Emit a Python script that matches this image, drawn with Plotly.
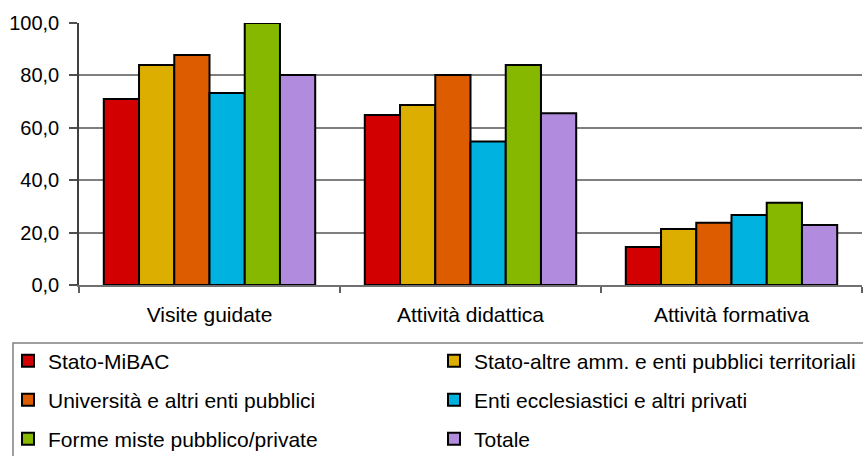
import plotly.graph_objects as go

# Categories of activity and the share (%) for each type of institution
categories = ["Visite guidate", "Attività didattica", "Attività formativa"]

series_names = [
    "Stato-MiBAC",
    "Stato-altre amm. e enti pubblici territoriali",
    "Università e altri enti pubblici",
    "Enti ecclesiastici e altri privati",
    "Forme miste pubblico/private",
    "Totale",
]

stato_mibac = [71.0, 64.9, 14.5]
stato_altre = [84.0, 68.7, 21.4]
universita = [87.8, 80.2, 23.8]
enti_ecclesiastici = [73.3, 54.8, 26.7]
forme_miste = [100.0, 84.0, 31.4]
totale = [80.2, 65.6, 22.9]

series_values = [stato_mibac, stato_altre, universita, enti_ecclesiastici, forme_miste, totale]
series_colors = ["#D20000", "#DCAE00", "#DD5C00", "#00B2DF", "#86B800", "#B18CDE"]

y_ticks = [0, 20, 40, 60, 80, 100]

W, H = 863, 456
font_family = "Liberation Sans, Arial, sans-serif"

# Legend laid out as a 2-column grid: one legend box per entry
col_x_px = [8, 434]
row_y_px = [361, 400, 439]
legend_ids = ["legend", "legend2", "legend3", "legend4", "legend5", "legend6"]

fig = go.Figure()
legend_layouts = {}
for i, (name, vals, col) in enumerate(zip(series_names, series_values, series_colors)):
    lg = legend_ids[i]
    fig.add_trace(go.Bar(
        x=categories, y=vals, name=name, legend=lg, showlegend=True,
        marker=dict(color=col, line=dict(color="#000000", width=2)),
    ))
    legend_layouts[lg] = dict(
        orientation="h", xref="container", yref="container",
        x=col_x_px[i % 2] / W, y=1 - row_y_px[i // 2] / H,
        xanchor="left", yanchor="middle",
        bgcolor="rgba(0,0,0,0)", borderwidth=0,
        font=dict(family=font_family, size=21, color="#000000"),
        itemclick=False, itemdoubleclick=False,
    )

fig.update_layout(
    width=W, height=H,
    showlegend=True,
    margin=dict(l=79, r=1, t=23, b=H - 285),
    paper_bgcolor="white", plot_bgcolor="white",
    barmode="group", bargap=0.19, bargroupgap=0,
    separators=", ",
    font=dict(family=font_family, size=20, color="#000000"),
    xaxis=dict(
        type="category", tickson="boundaries", ticks="outside", ticklen=6,
        tickcolor="#606060", tickwidth=1.5,
        showline=True, linecolor="#707070", linewidth=1.5,
        showgrid=False, ticklabelstandoff=10,
        tickfont=dict(family=font_family, size=21, color="#000000"),
    ),
    yaxis=dict(
        range=[0, 100], tickvals=y_ticks, tickformat=".1f",
        ticks="outside", ticklen=8, tickcolor="#505050", tickwidth=1.5,
        showline=True, linecolor="#404040", linewidth=1.5,
        showgrid=True, gridcolor="#7f7f7f", gridwidth=1.5,
        zeroline=False, ticklabelstandoff=6,
        tickfont=dict(family=font_family, size=20, color="#000000"),
    ),
    **legend_layouts,
)

# Frame around the legend grid
fig.add_shape(
    type="rect", xref="paper", yref="paper",
    x0=(13 - 79) / (W - 80), x1=(880 - 79) / (W - 80),
    y0=(285 - 470) / (285 - 23), y1=(285 - 343) / (285 - 23),
    line=dict(color="#808080", width=1.5), fillcolor="rgba(0,0,0,0)",
    layer="above",
)

fig.write_html("out.html")
